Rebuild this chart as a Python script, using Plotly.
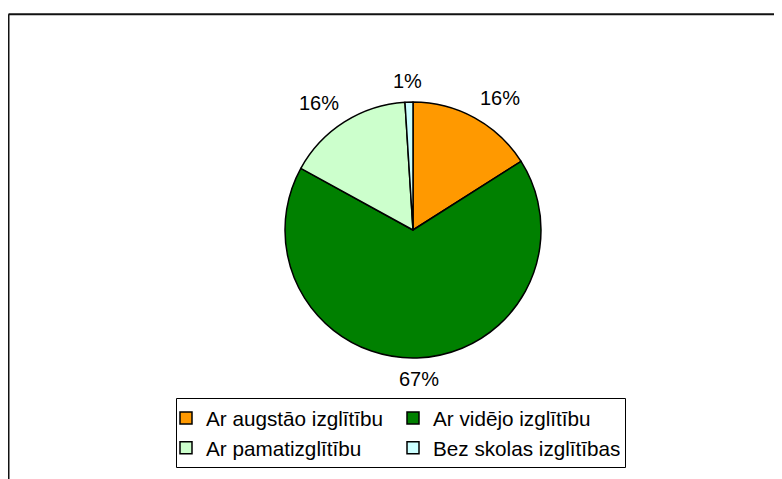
import math
import plotly.graph_objects as go

labels = ["Ar augstāo izglītību", "Ar vidējo izglītību", "Ar pamatizglītību", "Bez skolas izglītības"]
values = [16, 67, 16, 1]
colors = ["#FF9900", "#008000", "#CCFFCC", "#CCFFFF"]

W, H = 782, 479
OFF = 8  # default page body margin
ML, MR, MT, MB = 150, 150, 0, 0
GW = W - ML - MR
GH = H - MT - MB
FONT = "Liberation Sans, Arial, sans-serif"
FS = 20
LFS = 20.7


def px(x):
    return (x - OFF - ML) / GW


def py(y):
    return 1 - (y - OFF - MT) / GH


# pie geometry (page pixels)
CX, CY, R = 413, 230, 128

fig = go.Figure(go.Pie(
    labels=labels,
    values=values,
    sort=False,
    direction="clockwise",
    rotation=0,
    marker=dict(colors=colors, line=dict(color="#000000", width=1.5)),
    textinfo="none",
    domain=dict(x=[px(CX - R), px(CX + R)], y=[py(CY + R), py(CY - R)]),
    hoverinfo="label+percent",
))

# percentage labels placed outside the slices (computed from the values)
total = sum(values)
annotations = []
cum = 0
GAP = 11
for v in values:
    frac = v / total
    mid = (cum + v / 2) / total * 2 * math.pi
    cum += v
    txt = f"{round(frac * 100)}%"
    w = sum(0.889 if c == "%" else 0.556 for c in txt) * FS
    h = FS
    sx, sy = math.sin(mid), -math.cos(mid)
    d0 = R + GAP
    fx = max(-1, min(1, sx / 0.4))
    fy = max(-1, min(1, sy / 0.4))
    lx = CX + sx * d0 + fx * w / 2
    ly = CY + sy * d0 + fy * h / 2
    annotations.append(dict(
        x=px(lx), y=py(ly), xref="paper", yref="paper",
        text=txt, showarrow=False, xanchor="center", yanchor="middle",
        font=dict(family=FONT, size=FS, color="#000000"),
    ))

fig.update_layout(
    width=W, height=H,
    margin=dict(l=ML, r=MR, t=MT, b=MB, autoexpand=False),
    paper_bgcolor="white",
    plot_bgcolor="white",
    font=dict(family=FONT, size=FS, color="#000000"),
    showlegend=True,
    annotations=annotations,
    legend=dict(
        orientation="h",
        x=px(166), xanchor="left",
        y=py(398), yanchor="top",
        entrywidth=182, entrywidthmode="pixels",
        borderwidth=0,
        bgcolor="rgba(0,0,0,0)",
        font=dict(size=LFS),
        itemwidth=30,
        traceorder="normal",
    ),
    shapes=[
        dict(type="rect", xref="paper", yref="paper", x0=px(176.5), x1=px(625.5), y0=py(467.5), y1=py(398.5),
             line=dict(color="#000000", width=1), fillcolor="rgba(0,0,0,0)"),
        dict(type="line", xref="paper", yref="paper", x0=px(8.5), x1=px(800), y0=py(14.3), y1=py(14.3),
             line=dict(color="#111111", width=2)),
        dict(type="line", xref="paper", yref="paper", x0=px(8.5), x1=px(8.5), y0=py(14.3), y1=py(500),
             line=dict(color="#111111", width=2)),
    ],
)

fig.write_html("out.html")
